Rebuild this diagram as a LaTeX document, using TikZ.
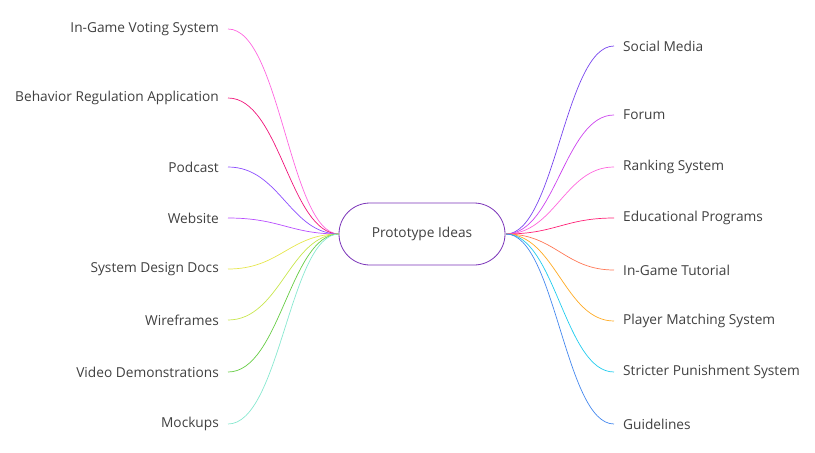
\documentclass[tikz,border=0pt]{standalone}
\usepackage{fontspec}
\setmainfont{Open Sans}
\begin{document}
\begin{tikzpicture}[x=1pt,y=-1pt,
  lbl/.style={font=\fontsize{13.7}{16}\selectfont,text=black!75,inner xsep=9pt,inner ysep=0pt},
  link/.style={line width=0.7pt}]
\useasboundingbox (0,0) rectangle (815,453);
\node[draw=violet!70!blue!80,line width=0.8pt,rounded corners=31pt,minimum width=166pt,minimum height=62pt,
  font=\fontsize{13.7}{16}\selectfont,text=black!75] (c) at (422,234) {Prototype Ideas};
\coordinate (cl) at (339,234);
\coordinate (cr) at (506,234);
\definecolor{l1}{HTML}{FF66E0}\definecolor{l2}{HTML}{F0147A}\definecolor{l3}{HTML}{8C4DFF}
\definecolor{l4}{HTML}{B84DFF}\definecolor{l5}{HTML}{E6E64D}\definecolor{l6}{HTML}{C8E64D}
\definecolor{l7}{HTML}{66CC44}\definecolor{l8}{HTML}{88E8D0}
\definecolor{r1}{HTML}{7744EE}\definecolor{r2}{HTML}{CC44EE}\definecolor{r3}{HTML}{FF66DD}
\definecolor{r4}{HTML}{FF2277}\definecolor{r5}{HTML}{FF7755}\definecolor{r6}{HTML}{FFAA22}
\definecolor{r7}{HTML}{22CCEE}\definecolor{r8}{HTML}{4488EE}
\foreach \n/\y/\t/\c in {1/29/In-Game Voting System/l1,2/98/Behavior Regulation Application/l2,
  3/167/Podcast/l3,4/218/Website/l4,5/269/System Design Docs/l5,6/320/Wireframes/l6,
  7/372/Video Demonstrations/l7,8/424/Mockups/l8}{
  \node[lbl,anchor=east] (L\n) at (228,\y) {\t};
  \draw[link,\c] (cl) .. controls (290,234) and (280,\y) .. (L\n.east);
}
\foreach \n/\y/\t/\c in {1/46/Social Media/r1,2/115/Forum/r2,3/167/Ranking System/r3,
  4/218/Educational Programs/r4,5/270/In-Game Tutorial/r5,6/321/Player Matching System/r6,
  7/372/Stricter Punishment System/r7,8/424/Guidelines/r8}{
  \node[lbl,anchor=west] (R\n) at (614,\y) {\t};
  \draw[link,\c] (cr) .. controls (555,234) and (565,\y) .. (R\n.west);
}
\end{tikzpicture}
\end{document}
